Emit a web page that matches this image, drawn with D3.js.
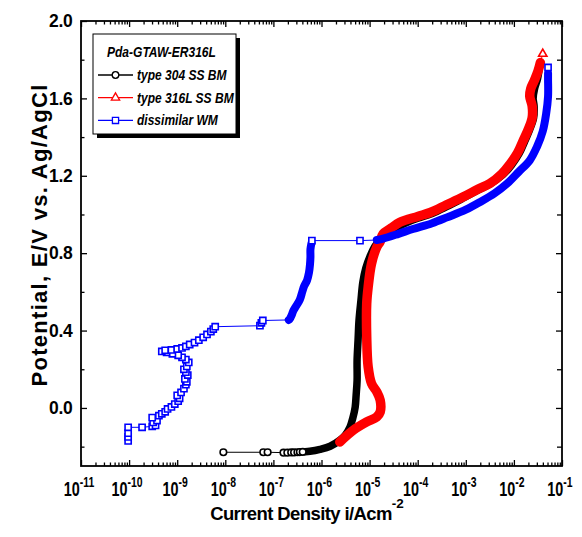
<!DOCTYPE html>
<html>
<head>
<meta charset="utf-8">
<script src="https://cdn.jsdelivr.net/npm/d3@7"></script>
<style>
  body { margin: 0; background: #fff; }
  svg { display: block; }
  text { font-family: "Liberation Sans", Arial, sans-serif; font-weight: bold; }
</style>
</head>
<body>
<svg id="chart" width="582" height="537"></svg>
<script>
// Potentiodynamic polarization curves. Each point: [log10(i / A·cm^-2), E / V vs. Ag/AgCl]
const legendTitle = "Pda-GTAW-ER316L";
const seriesLabels = ["type 304 SS BM", "type 316L SS BM", "dissimilar WM"];

// type 304 SS BM: resolved points near the start of the scan, then the dense scan
const bm304Sparse = [[-8.04,-0.229],[-7.21,-0.229],[-7.12,-0.229],[-6.79,-0.231],[-6.71,-0.231],
  [-6.63,-0.230],[-6.57,-0.230],[-6.50,-0.229],[-6.45,-0.228],[-6.39,-0.227]];
const bm304Trace = [[-6.34,-0.226],[-6.24,-0.224],[-6.03,-0.214],[-5.82,-0.198],[-5.62,-0.167],
  [-5.51,-0.141],[-5.41,-0.100],[-5.35,-0.053],[-5.30,0.004],[-5.28,0.066],[-5.26,0.143],
  [-5.26,0.247],[-5.24,0.350],[-5.22,0.453],[-5.18,0.556],[-5.14,0.650],[-5.08,0.722],
  [-4.99,0.784],[-4.89,0.836],[-4.78,0.867],[-4.70,0.88],[-4.50,0.92],[-4.30,0.95],[-4.00,0.98],
  [-3.70,1.005],[-3.40,1.04],[-3.05,1.085],[-2.75,1.125],[-2.48,1.16],[-2.23,1.205],[-2.05,1.255],
  [-1.89,1.315],[-1.78,1.375],[-1.67,1.44],[-1.59,1.50],[-1.58,1.56],[-1.60,1.60],[-1.57,1.65],
  [-1.51,1.70],[-1.47,1.76]];

// type 316L SS BM
const bm316Trace = [[-5.62,-0.176],[-5.34,-0.115],[-5.06,-0.072],[-4.85,-0.046],[-4.78,-0.021],
  [-4.78,0.040],[-4.85,0.083],[-4.96,0.126],[-5.03,0.212],[-5.06,0.367],[-5.06,0.540],[-5.03,0.625],
  [-4.96,0.746],[-4.85,0.832],[-4.78,0.86],[-4.72,0.90],[-4.55,0.93],[-4.37,0.96],[-4.00,0.99],
  [-3.74,1.01],[-3.40,1.05],[-3.06,1.09],[-2.75,1.13],[-2.50,1.16],[-2.25,1.21],[-2.08,1.26],
  [-1.92,1.32],[-1.81,1.38],[-1.70,1.44],[-1.62,1.50],[-1.62,1.56],[-1.67,1.61],[-1.65,1.65],
  [-1.58,1.69],[-1.50,1.74],[-1.45,1.785]];
const bm316End = [[-1.40,1.83]];

// dissimilar weld metal
const wmLow = [[-10.02,-0.17],[-10.02,-0.15],[-10.02,-0.13],[-10.02,-0.10],[-9.73,-0.10],
  [-9.52,-0.095],[-9.45,-0.09],[-9.50,-0.075],[-9.42,-0.065],[-9.52,-0.05],[-9.38,-0.04],
  [-9.32,-0.03],[-9.25,-0.02],[-9.20,-0.005],[-9.12,0.005],[-9.05,0.02],[-8.98,0.035],[-8.95,0.05],
  [-9.00,0.065],[-8.92,0.08],[-8.86,0.10],[-8.82,0.12],[-8.80,0.135],[-8.84,0.15],[-8.78,0.17],
  [-8.82,0.185],[-8.86,0.20],[-8.80,0.215],[-8.76,0.235],[-8.82,0.25],[-8.90,0.262],[-8.98,0.272],
  [-9.10,0.28],[-9.22,0.287],[-9.32,0.292],[-9.25,0.298],[-9.12,0.30],[-9.00,0.305],[-8.90,0.31],
  [-8.82,0.318],[-8.74,0.328],[-8.64,0.338],[-8.55,0.35],[-8.46,0.365],[-8.38,0.38],[-8.30,0.395],
  [-8.25,0.408],[-8.21,0.42],[-7.28,0.425],[-7.25,0.44],[-7.22,0.452]];
const wmMid = [[-6.68,0.455],[-6.66,0.46],[-6.62,0.48],[-6.59,0.50],[-6.52,0.53],[-6.45,0.56],
  [-6.40,0.60],[-6.36,0.63],[-6.30,0.66],[-6.26,0.70],[-6.24,0.74],[-6.23,0.78],[-6.23,0.82],
  [-6.21,0.85]];
const wmGap = [[-6.20,0.865],[-5.20,0.865]];
const wmHigh = [[-4.85,0.868],[-4.72,0.875],[-4.40,0.90],[-4.10,0.925],[-3.70,0.955],[-3.39,0.985],
  [-3.00,1.025],[-2.70,1.065],[-2.40,1.11],[-2.14,1.16],[-1.90,1.22],[-1.67,1.28],[-1.52,1.35],
  [-1.40,1.43],[-1.33,1.52],[-1.29,1.61],[-1.29,1.70],[-1.29,1.73]];
const wmEnd = [[-1.29,1.76]];

const xDecades = d3.range(-11, 0);          // exponents of the labelled decades
const yMajor = [0, 0.4, 0.8, 1.2, 1.6, 2.0];
const yMinor = [-0.2, 0.2, 0.6, 1.0, 1.4, 1.8];

const svg = d3.select("#chart");
const x = d3.scaleLog().domain([1e-11, 1e-1]).range([81, 562]);
const y = d3.scaleLinear().domain([-0.3, 2.0]).range([466, 21]);
const [x0, x1] = x.range();
const [y0, y1] = y.range();

// ---- axes (ticks point inward on all four sides) ----
const majorX = xDecades.map(p => Math.pow(10, p));
const minorX = [];
xDecades.slice(0, -1).forEach(p => { for (let k = 2; k <= 9; k++) minorX.push(k * Math.pow(10, p)); });

function tickAxis(axis, vals, size, transform) {
  const g = svg.append("g").attr("transform", transform)
    .call(axis.tickValues(vals).tickSizeInner(-size).tickSizeOuter(0).tickFormat(""));
  g.select(".domain").remove();
  g.selectAll(".tick line").attr("stroke", "#000").attr("stroke-width", 1.3);
  return g;
}
tickAxis(d3.axisBottom(x), majorX, 6, `translate(0,${y0})`);
tickAxis(d3.axisBottom(x), minorX, 3.5, `translate(0,${y0})`);
tickAxis(d3.axisTop(x), majorX, 6, `translate(0,${y1})`);
tickAxis(d3.axisTop(x), minorX, 3.5, `translate(0,${y1})`);
tickAxis(d3.axisLeft(y), yMajor, 6, `translate(${x0},0)`);
tickAxis(d3.axisLeft(y), yMinor, 3.5, `translate(${x0},0)`);
tickAxis(d3.axisRight(y), yMajor, 6, `translate(${x1},0)`);
tickAxis(d3.axisRight(y), yMinor, 5, `translate(${x1},0)`);

svg.append("rect").attr("x", x0).attr("y", y1).attr("width", x1 - x0).attr("height", y0 - y1)
  .attr("fill", "none").attr("stroke", "#000").attr("stroke-width", 1.8);

// y tick labels
svg.append("g").selectAll("text").data(yMajor).join("text")
  .attr("x", x0 - 8.5).attr("y", d => y(d)).attr("dy", "0.36em")
  .attr("text-anchor", "end").attr("font-size", 17.5).attr("letter-spacing", -0.3)
  .text(d3.format(".1f"));

// x tick labels: 10 with a superscript exponent, horizontally condensed
majorX.forEach((v, i) => {
  const g = svg.append("g").attr("transform", `translate(${x(v) - 2},495.5) scale(0.72,1)`);
  const t = g.append("text").attr("text-anchor", "middle").attr("font-size", 20);
  t.append("tspan").text("10");
  t.append("tspan").attr("font-size", 14.5).attr("dy", -9).text(String(xDecades[i]));
});

// axis titles
const xt = svg.append("text").attr("x", 307).attr("y", 520).attr("text-anchor", "middle")
  .attr("font-size", 18.5).attr("letter-spacing", -0.6);
xt.append("tspan").text("Current Density i/Acm");
xt.append("tspan").attr("font-size", 13.5).attr("dy", -12).attr("letter-spacing", 0).text("-2");

svg.append("text").attr("transform", "translate(47,235) rotate(-90)")
  .attr("text-anchor", "middle").attr("font-size", 22).attr("letter-spacing", 1.3)
  .text("Potential, E/V vs. Ag/AgCl");

// ---- curves ----
const px = d => x(Math.pow(10, d[0]));
const py = d => y(d[1]);
const thinLine = d3.line().x(px).y(py);
const bandLine = d3.line().x(px).y(py).curve(d3.curveCatmullRom.alpha(0.5));

const symbolOf = { circle: d3.symbolCircle, triangle: d3.symbolTriangle, square: d3.symbolSquare };
const symbolSize = { circle: 34, triangle: 30, square: 38 };

const series = [
  { color: "#000000", marker: "circle", band: 7.5,
    runs: [{ pts: bm304Sparse }, { pts: bm304Trace, dense: true }] },
  { color: "#ff0000", marker: "triangle", band: 9.5,
    runs: [{ pts: bm316Trace, dense: true }, { pts: bm316End }] },
  { color: "#0000ff", marker: "square", band: 8,
    runs: [{ pts: wmLow }, { pts: wmMid, dense: true }, { pts: wmGap },
           { pts: wmHigh, dense: true }, { pts: wmEnd }] }
];

const plot = svg.append("g");
series.forEach(s => {
  const g = plot.append("g");
  const all = s.runs.flatMap(r => r.pts);
  g.append("path").datum(all).attr("d", thinLine)
    .attr("fill", "none").attr("stroke", s.color).attr("stroke-width", 1);
  s.runs.filter(r => r.dense).forEach(r => {
    g.append("path").datum(r.pts).attr("d", bandLine)
      .attr("fill", "none").attr("stroke", s.color).attr("stroke-width", s.band)
      .attr("stroke-linejoin", "round").attr("stroke-linecap", "round");
  });
  const sym = d3.symbol().type(symbolOf[s.marker]).size(symbolSize[s.marker]);
  s.runs.filter(r => !r.dense).forEach(r => {
    g.append("g").selectAll("path").data(r.pts).join("path")
      .attr("transform", d => `translate(${px(d)},${py(d)})`)
      .attr("d", sym).attr("fill", "#fff").attr("stroke", s.color).attr("stroke-width", 1.6);
  });
});

// ---- legend ----
const lg = svg.append("g");
lg.append("rect").attr("x", 97).attr("y", 38).attr("width", 143).attr("height", 100).attr("fill", "#000");
lg.append("rect").attr("x", 93).attr("y", 34).attr("width", 143).attr("height", 100)
  .attr("fill", "#fff").attr("stroke", "#000").attr("stroke-width", 1);

function condensed(parent, tx, ty, str, size, sx) {
  parent.append("g").attr("transform", `translate(${tx},${ty}) scale(${sx},1)`)
    .append("text").attr("font-size", size).attr("font-style", "italic").text(str);
}
condensed(lg, 107, 57, legendTitle, 14.5, 0.83);
series.forEach((s, i) => {
  const cy = 75 + i * 22.7;
  lg.append("line").attr("x1", 98).attr("x2", 133).attr("y1", cy).attr("y2", cy)
    .attr("stroke", s.color).attr("stroke-width", 1.3);
  lg.append("path").attr("transform", `translate(115.5,${cy})`)
    .attr("d", d3.symbol().type(symbolOf[s.marker]).size(symbolSize[s.marker]))
    .attr("fill", "#fff").attr("stroke", s.color).attr("stroke-width", 1.3);
  condensed(lg, 137, cy + 5, seriesLabels[i], 14.5, 0.83);
});
</script>
</body>
</html>
